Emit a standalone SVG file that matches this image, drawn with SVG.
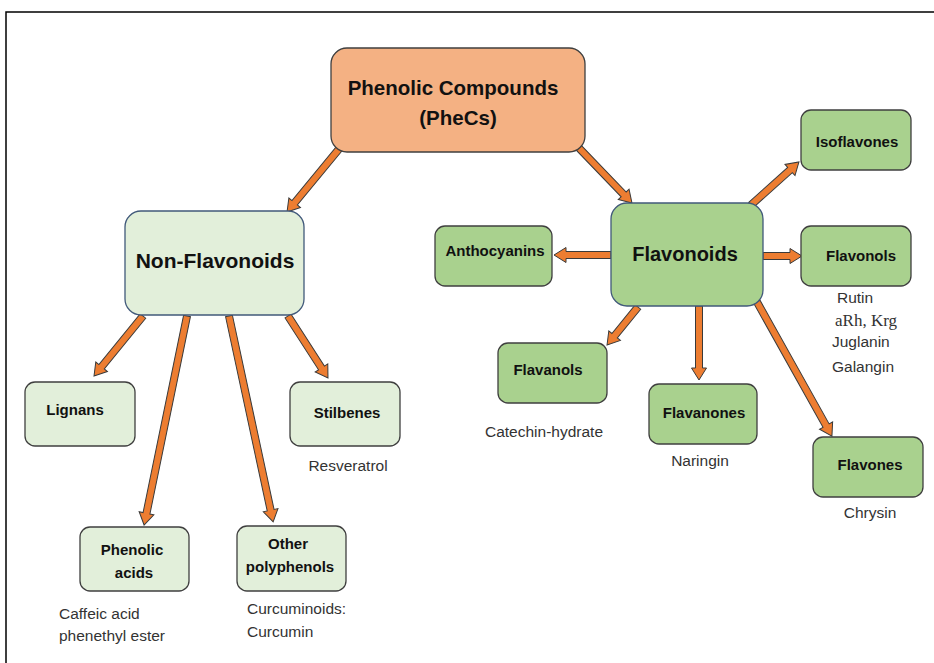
<svg xmlns="http://www.w3.org/2000/svg" width="934" height="663" viewBox="0 0 934 663">
<style>
.frame{fill:none;stroke:#000;stroke-width:1.5}
.top{fill:#F4B183;stroke:#3f3f3f;stroke-width:1.3}
.light{fill:#E2EFDA;stroke:#3f3f3f;stroke-width:1.3}
.lightb{fill:#E2EFDA;stroke:#41597a;stroke-width:1.3}
.mid{fill:#A9D18E;stroke:#3f3f3f;stroke-width:1.3}
.midb{fill:#A9D18E;stroke:#41597a;stroke-width:1.3}
.t{font-family:"Liberation Sans",Arial,sans-serif;font-weight:bold;fill:#111;text-anchor:middle}
.big{font-size:20.5px}
.nt{font-size:15px}
.lab{font-family:"Liberation Sans",Arial,sans-serif;font-size:15.5px;fill:#333}
.ser{font-family:"Liberation Serif","Times New Roman",serif;font-size:17px;fill:#333}
.arr path{fill:#ED7D31;stroke:#3a3a3a;stroke-width:1;stroke-linejoin:miter}
</style>
<rect class="frame" x="6" y="12" width="940" height="660"/>
<g id="connectors" class="arr">
<path transform="translate(339,149) rotate(129.5)" d="M0,-3.5 L69.7,-3.5 L69.7,-7.5 L81.7,0 L69.7,7.5 L69.7,3.5 L0,3.5 Z"/>
<path transform="translate(579,148) rotate(46.1)" d="M0,-3.5 L64.4,-3.5 L64.4,-7.5 L76.4,0 L64.4,7.5 L64.4,3.5 L0,3.5 Z"/>
<path transform="translate(751,205) rotate(-41.9)" d="M0,-3.5 L52.4,-3.5 L52.4,-7.5 L64.4,0 L52.4,7.5 L52.4,3.5 L0,3.5 Z"/>
<path transform="translate(763,256) rotate(0)" d="M0,-3.5 L27,-3.5 L27,-7.5 L39,0 L27,7.5 L27,3.5 L0,3.5 Z"/>
<path transform="translate(611,255) rotate(180)" d="M0,-3.5 L45,-3.5 L45,-7.5 L57,0 L45,7.5 L45,3.5 L0,3.5 Z"/>
<path transform="translate(638,307) rotate(129.2)" d="M0,-3.5 L37,-3.5 L37,-7.5 L49,0 L37,7.5 L37,3.5 L0,3.5 Z"/>
<path transform="translate(699,306) rotate(90)" d="M0,-3.5 L62,-3.5 L62,-7.5 L74,0 L62,7.5 L62,3.5 L0,3.5 Z"/>
<path transform="translate(757,302) rotate(60.8)" d="M0,-3.5 L141.6,-3.5 L141.6,-7.5 L153.6,0 L141.6,7.5 L141.6,3.5 L0,3.5 Z"/>
<path transform="translate(143,316) rotate(129.2)" d="M0,-3.5 L65.5,-3.5 L65.5,-7.5 L77.5,0 L65.5,7.5 L65.5,3.5 L0,3.5 Z"/>
<path transform="translate(187,316) rotate(101.6)" d="M0,-3.5 L201.4,-3.5 L201.4,-7.5 L213.4,0 L201.4,7.5 L201.4,3.5 L0,3.5 Z"/>
<path transform="translate(229,316) rotate(77.9)" d="M0,-3.5 L198.6,-3.5 L198.6,-7.5 L210.6,0 L198.6,7.5 L198.6,3.5 L0,3.5 Z"/>
<path transform="translate(288,316) rotate(57.2)" d="M0,-3.5 L61.8,-3.5 L61.8,-7.5 L73.8,0 L61.8,7.5 L61.8,3.5 L0,3.5 Z"/>
</g>
<g id="phecs">
<rect class="top" x="331" y="48" width="254" height="104" rx="16"/>
<text class="t big" x="453" y="95">Phenolic Compounds</text>
<text class="t big" x="458" y="125">(PheCs)</text>
</g>
<g id="nonflavonoids">
<rect class="lightb" x="125" y="211" width="179" height="104" rx="16"/>
<text class="t" style="font-size:21px" x="215" y="268">Non-Flavonoids</text>
</g>
<g id="flavonoids">
<rect class="midb" x="611" y="203" width="152" height="103" rx="16"/>
<text class="t" style="font-size:20px" x="685" y="261">Flavonoids</text>
</g>
<g id="isoflavones">
<rect class="mid" x="801" y="110" width="110" height="60" rx="10"/>
<text class="t nt" x="857" y="147">Isoflavones</text>
</g>
<g id="flavonols">
<rect class="mid" x="801" y="226" width="110" height="60" rx="10"/>
<text class="t nt" x="861" y="261">Flavonols</text>
<text class="lab" x="837" y="303">Rutin</text>
<text class="ser" x="835" y="326">aRh, Krg</text>
<text class="lab" x="832" y="347">Juglanin</text>
<text class="lab" x="832" y="372">Galangin</text>
</g>
<g id="anthocyanins">
<rect class="mid" x="435" y="226" width="117" height="60" rx="10"/>
<text class="t nt" x="495" y="256">Anthocyanins</text>
</g>
<g id="flavanols">
<rect class="mid" x="498" y="343" width="109" height="60" rx="10"/>
<text class="t nt" x="548" y="375">Flavanols</text>
<text class="lab" x="544" y="437" text-anchor="middle">Catechin-hydrate</text>
</g>
<g id="flavanones">
<rect class="mid" x="649" y="384" width="108" height="60" rx="10"/>
<text class="t nt" x="704" y="418">Flavanones</text>
<text class="lab" x="700" y="466" text-anchor="middle">Naringin</text>
</g>
<g id="flavones">
<rect class="mid" x="813" y="437" width="110" height="60" rx="10"/>
<text class="t nt" x="870" y="470">Flavones</text>
<text class="lab" x="870" y="518" text-anchor="middle">Chrysin</text>
</g>
<g id="lignans">
<rect class="light" x="25" y="382" width="110" height="64" rx="10"/>
<text class="t nt" x="75" y="415">Lignans</text>
</g>
<g id="stilbenes">
<rect class="light" x="290" y="382" width="110" height="64" rx="10"/>
<text class="t nt" x="347" y="418">Stilbenes</text>
<text class="lab" x="348" y="471" text-anchor="middle">Resveratrol</text>
</g>
<g id="phenolicacids">
<rect class="light" x="80" y="527" width="109" height="64" rx="10"/>
<text class="t nt" x="132" y="555">Phenolic</text>
<text class="t nt" x="134" y="578">acids</text>
<text class="lab" x="59" y="619">Caffeic acid</text>
<text class="lab" x="59" y="641">phenethyl ester</text>
</g>
<g id="otherpolyphenols">
<rect class="light" x="237" y="526" width="109" height="65" rx="10"/>
<text class="t nt" x="288" y="549">Other</text>
<text class="t nt" x="290" y="572">polyphenols</text>
<text class="lab" x="247" y="614">Curcuminoids:</text>
<text class="lab" x="247" y="637">Curcumin</text>
</g>
</svg>
